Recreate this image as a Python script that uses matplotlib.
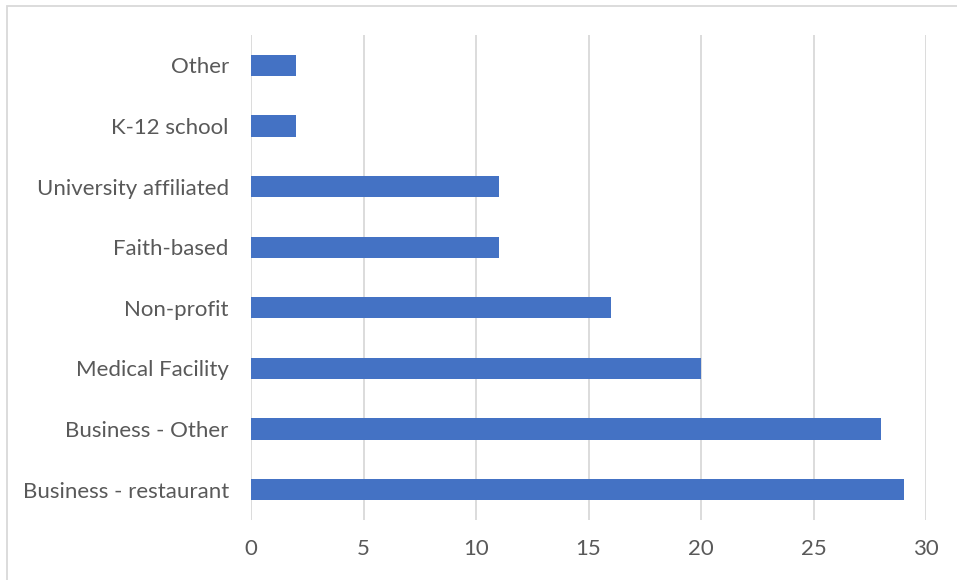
import matplotlib
matplotlib.use("Agg")
import matplotlib.pyplot as plt
from matplotlib.patches import Rectangle

categories = ["Business - restaurant", "Business - Other", "Medical Facility", "Non-profit",
              "Faith-based", "University affiliated", "K-12 school", "Other"]
values = [29, 28, 20, 16, 11, 11, 2, 2]
xticks = [0, 5, 10, 15, 20, 25, 30]

plt.rcParams['font.family'] = ['Lato', 'DejaVu Sans']
fig = plt.figure(figsize=(9.57, 5.80), dpi=100)
ax = fig.add_axes([251/957, 1-520/580, (926-251)/957, (520-35)/580])

ax.barh(range(len(categories)), values, height=0.35, color="#4472C4", zorder=3)
ax.set_xlim(0, 30)
ax.set_ylim(-0.5, len(categories)-0.5)
ax.set_xticks(xticks)
ax.set_xticklabels([str(t) for t in xticks])
ax.set_yticks(range(len(categories)))
ax.set_yticklabels(categories)
ax.grid(axis='x', color="#D9D9D9", linewidth=1.3, zorder=0)
ax.tick_params(axis='both', length=0, labelsize=16, labelcolor="#595959")
ax.tick_params(axis='x', pad=14)
ax.tick_params(axis='y', pad=16)
for s in ax.spines.values():
    s.set_visible(False)

fig.patches.append(Rectangle((7/957, -0.1), 1.2, 1-6/580+0.1, transform=fig.transFigure,
                             fill=False, edgecolor="#D9D9D9", linewidth=1.3))

fig.savefig("out.png", dpi=100)
